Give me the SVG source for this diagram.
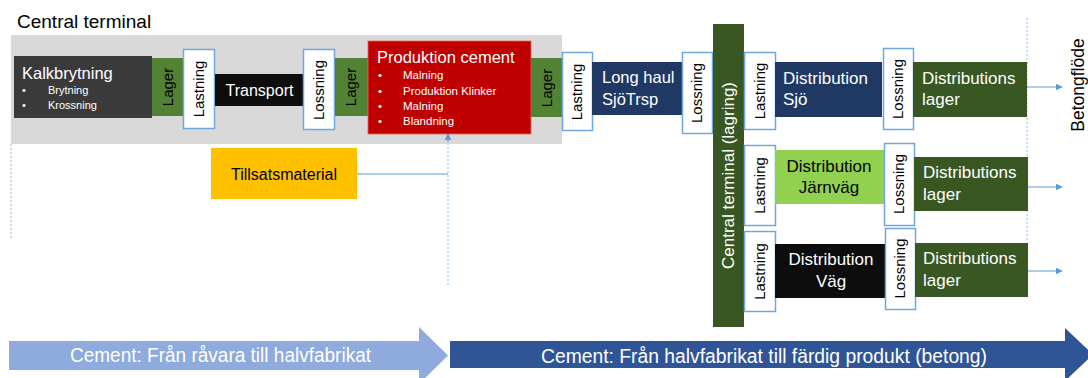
<svg xmlns="http://www.w3.org/2000/svg" width="1088" height="378" viewBox="0 0 1088 378">
<defs>
<style>
text{font-family:"Liberation Sans",Arial,sans-serif}
.w{fill:#fff}.k{fill:#000}
.box{fill:#fff;stroke:#6fa8dc;stroke-width:1.5}
.lg{fill:#548235}.dg{fill:#385723}.nv{fill:#203864}.bk{fill:#0d0d0d}
.rt{font-size:15px;text-anchor:middle}
.t17{font-size:17px}
.dash{stroke:#9dc3e6;stroke-width:1.2;stroke-dasharray:2 2;fill:none}
.con{stroke:#5b9bd5;stroke-width:1;fill:none}
</style>
<marker id="ah" viewBox="0 0 10 10" refX="9" refY="5" markerWidth="7" markerHeight="7" orient="auto" markerUnits="userSpaceOnUse">
<path d="M0,0 L10,5 L0,10 z" fill="#5b9bd5"/>
</marker>
</defs>
<rect width="1088" height="378" fill="#fff"/>
<text x="17" y="28" font-size="19" class="k">Central terminal</text>
<rect x="11" y="35" width="551" height="109" fill="#d9d9d9"/>
<g id="connectors">
<line class="dash" x1="11" y1="144" x2="11" y2="238"/>
<line class="dash" x1="1027" y1="18" x2="1027" y2="242"/>
<line class="con" x1="357" y1="174" x2="448" y2="174" stroke="#9dc3e6"/>
<line class="dash" x1="448" y1="285" x2="448" y2="140"/>
<line class="con" x1="448" y1="142" x2="448" y2="134" marker-end="url(#ah)"/>
<line class="con" x1="1027" y1="87" x2="1062" y2="87" marker-end="url(#ah)"/>
<line class="con" x1="1027" y1="187" x2="1062" y2="187" marker-end="url(#ah)"/>
<line class="con" x1="1027" y1="271" x2="1062" y2="271" marker-end="url(#ah)"/>
</g>
<g id="kalkbrytning">
<rect x="14" y="56" width="138" height="62" fill="#3a3a3a"/>
<text x="22" y="79" font-size="16.5" class="w">Kalkbrytning</text>
<text x="22" y="94" font-size="11" class="w">•</text><text x="48" y="94" font-size="11" class="w">Brytning</text>
<text x="22" y="109" font-size="11" class="w">•</text><text x="48" y="109" font-size="11" class="w">Krossning</text>
</g>
<g id="lager1"><rect x="152" y="58" width="32" height="58" class="lg"/><text class="rt k" transform="translate(173,87) rotate(-90)">Lager</text></g>
<g id="lastning1"><rect x="183.5" y="49.5" width="31" height="79" class="box"/><text class="rt k" transform="translate(204,89) rotate(-90)">Lastning</text></g>
<g id="transport"><rect x="215" y="74" width="89" height="32" class="bk"/><text x="259.5" y="96" font-size="16" text-anchor="middle" class="w">Transport</text></g>
<g id="lossning1"><rect x="303.5" y="49.5" width="31" height="80" class="box"/><text class="rt k" transform="translate(324,90) rotate(-90)">Lossning</text></g>
<g id="lager2"><rect x="335" y="58" width="33" height="58" class="lg"/><text class="rt k" transform="translate(356,87) rotate(-90)">Lager</text></g>
<g id="produktion">
<rect x="368" y="41" width="163" height="93" fill="#c00000" stroke="#e06666" stroke-width="0.8"/>
<text x="377" y="63" font-size="16.5" class="w">Produktion cement</text>
<g font-size="11.5" class="w">
<text x="378" y="79">•</text><text x="403" y="79">Malning</text>
<text x="378" y="95">•</text><text x="403" y="95">Produktion Klinker</text>
<text x="378" y="110">•</text><text x="403" y="110">Malning</text>
<text x="378" y="125">•</text><text x="403" y="125">Blandning</text>
</g>
</g>
<g id="lager3"><rect x="531" y="58" width="32" height="59" class="lg"/><text class="rt k" transform="translate(552,88) rotate(-90)">Lager</text></g>
<g id="lastning2"><rect x="562.5" y="52.5" width="30" height="78" class="box"/><text class="rt k" transform="translate(582,92) rotate(-90)">Lastning</text></g>
<g id="longhaul"><rect x="592" y="62" width="91" height="53" class="nv"/><text x="602" y="83" font-size="16.5" class="w">Long haul</text><text x="602" y="105" font-size="16.5" class="w">SjöTrsp</text></g>
<g id="lossning2"><rect x="682.5" y="52.5" width="30" height="81" class="box"/><text class="rt k" transform="translate(702,93) rotate(-90)">Lossning</text></g>
<g id="centralterminal"><rect x="713" y="24" width="31" height="303" class="dg"/><text class="w" font-size="17" text-anchor="middle" transform="translate(734,175.5) rotate(-90)">Central terminal (lagring)</text></g>
<g id="row1">
<rect x="744.5" y="52.5" width="31" height="77" class="box"/><text class="rt k" transform="translate(765,91) rotate(-90)">Lastning</text>
<rect x="775" y="62" width="107" height="55" class="nv"/><text x="783" y="84" class="w t17">Distribution</text><text x="783" y="105" class="w t17">Sjö</text>
<rect x="883.5" y="48.5" width="30" height="81" class="box"/><text class="rt k" transform="translate(903,89) rotate(-90)">Lossning</text>
<rect x="913" y="62" width="114" height="55" class="dg"/><text x="922" y="84" class="w t17">Distributions</text><text x="922" y="105" class="w t17">lager</text>
</g>
<g id="row2">
<rect x="744.5" y="145.5" width="31" height="80" class="box"/><text class="rt k" transform="translate(765,185.5) rotate(-90)">Lastning</text>
<rect x="775" y="150" width="109" height="54" fill="#92d050"/><text x="829" y="172" text-anchor="middle" class="k t17">Distribution</text><text x="829" y="193" text-anchor="middle" class="k t17">Järnväg</text>
<rect x="884.5" y="143.5" width="30" height="82" class="box"/><text class="rt k" transform="translate(904,184) rotate(-90)">Lossning</text>
<rect x="914" y="157" width="114" height="54" class="dg"/><text x="923" y="178" class="w t17">Distributions</text><text x="923" y="200" class="w t17">lager</text>
</g>
<g id="row3">
<rect x="744.5" y="231.5" width="31" height="80" class="box"/><text class="rt k" transform="translate(765,271.5) rotate(-90)">Lastning</text>
<rect x="775" y="244" width="112" height="54" class="bk"/><text x="831" y="265" text-anchor="middle" class="w t17">Distribution</text><text x="831" y="287" text-anchor="middle" class="w t17">Väg</text>
<rect x="885.5" y="228.5" width="30" height="81" class="box"/><text class="rt k" transform="translate(905,268.5) rotate(-90)">Lossning</text>
<rect x="915" y="243" width="113" height="54" class="dg"/><text x="923" y="264" class="w t17">Distributions</text><text x="923" y="286" class="w t17">lager</text>
</g>
<g id="tillsats"><rect x="211" y="148" width="146" height="51" fill="#ffc000"/><text x="284" y="180" font-size="16" text-anchor="middle" class="k">Tillsatsmaterial</text></g>
<g id="betongflode"><text class="k" font-size="17.5" text-anchor="middle" transform="translate(1084,85) rotate(-90)">Betongflöde</text></g>
<g id="phase1">
<polygon points="9,341 419,341 419,327 448,355.5 419,384 419,370 9,370" fill="#8faadc"/>
<text x="220.5" y="362" font-size="20" text-anchor="middle" textLength="301" lengthAdjust="spacingAndGlyphs" class="w">Cement: Från råvara till halvfabrikat</text>
</g>
<g id="phase2">
<polygon points="450,341 1065,341 1065,328 1093,354.5 1065,381 1065,368 450,368" fill="#2f5597"/>
<text x="764" y="363" font-size="20" text-anchor="middle" textLength="446" lengthAdjust="spacingAndGlyphs" class="w">Cement: Från halvfabrikat till färdig produkt (betong)</text>
</g>
</svg>
